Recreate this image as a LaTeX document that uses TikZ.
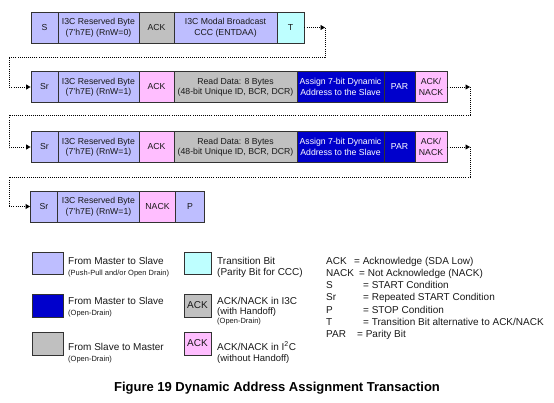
\documentclass[tikz,border=0pt]{standalone}
\usepackage{fontspec}
\setmainfont{Liberation Sans}
\usetikzlibrary{arrows.meta}
\definecolor{lav}{RGB}{190,190,255}
\definecolor{cyn}{RGB}{190,255,255}
\definecolor{pnk}{RGB}{255,190,255}
\definecolor{gry}{RGB}{192,192,192}
\definecolor{dbl}{RGB}{0,0,204}
\definecolor{edge}{RGB}{50,50,50}
\definecolor{ink}{RGB}{25,25,25}
\begin{document}
\begin{tikzpicture}[x=1pt,y=-1pt,
  cell/.style={draw=edge, line width=0.9pt, minimum height=31pt, inner sep=0pt, align=center,
    text=ink, font=\fontsize{8.7}{10.5}\selectfont},
  lgbox/.style={draw=edge, line width=0.9pt, inner sep=0pt, text=ink, font=\fontsize{10}{12}\selectfont},
  lav/.style={fill=lav}, cyn/.style={fill=cyn}, pnk/.style={fill=pnk}, gry/.style={fill=gry},
  dbl/.style={fill=dbl, text=white},
  txt/.style={anchor=base west, inner sep=0pt, text=ink, font=\fontsize{10}{12}\selectfont},
  small/.style={txt, font=\fontsize{7.5}{9}\selectfont},
  mid/.style={txt, font=\fontsize{9.5}{11}\selectfont},
  dotline/.style={draw=black, line width=0.9pt, dash pattern=on 1pt off 1.1pt},
  tip/.style={-{Triangle[length=4.5pt,width=5pt]}}
]
\useasboundingbox (0,0) rectangle (554,402);

% Row 1
\node[cell,lav,minimum width=27pt] (s1) at (44.5,27.5) {S};
\node[cell,lav,minimum width=81pt] (r1) at (98.5,27.5) {I3C Reserved Byte\\(7'h7E) (RnW=0)};
\node[cell,gry,minimum width=35pt] (a1) at (156.5,27.5) {ACK};
\node[cell,lav,minimum width=103pt] (m1) at (225.5,27.5) {I3C Modal Broadcast\\CCC (ENTDAA)};
\node[cell,cyn,minimum width=27pt] (t1) at (290.5,27.5) {T};

% Row 2
\node[cell,lav,minimum width=27pt] (s2) at (44.5,87) {Sr};
\node[cell,lav,minimum width=81pt] (r2) at (98.5,87) {I3C Reserved Byte\\(7'h7E) (RnW=1)};
\node[cell,pnk,minimum width=35pt] (a2) at (156.5,87) {ACK};
\node[cell,gry,minimum width=123pt] (d2) at (235.5,87) {Read Data: 8 Bytes\\(48-bit Unique ID, BCR, DCR)};
\node[cell,dbl,minimum width=87pt] (g2) at (340.5,87) {Assign 7-bit Dynamic\\Address to the Slave};
\node[cell,dbl,minimum width=31pt] (p2) at (399.5,87) {PAR};
\node[cell,pnk,minimum width=32pt] (n2) at (431,87) {ACK/\\NACK};

% Row 3
\node[cell,lav,minimum width=27pt] (s3) at (44.5,147) {Sr};
\node[cell,lav,minimum width=81pt] (r3) at (98.5,147) {I3C Reserved Byte\\(7'h7E) (RnW=1)};
\node[cell,pnk,minimum width=35pt] (a3) at (156.5,147) {ACK};
\node[cell,gry,minimum width=123pt] (d3) at (235.5,147) {Read Data: 8 Bytes\\(48-bit Unique ID, BCR, DCR)};
\node[cell,dbl,minimum width=87pt] (g3) at (340.5,147) {Assign 7-bit Dynamic\\Address to the Slave};
\node[cell,dbl,minimum width=31pt] (p3) at (399.5,147) {PAR};
\node[cell,pnk,minimum width=32pt] (n3) at (431,147) {ACK/\\NACK};

% Row 4
\node[cell,lav,minimum width=27pt] (s4) at (44,206.5) {Sr};
\node[cell,lav,minimum width=82pt] (r4) at (98.5,206.5) {I3C Reserved Byte\\(7'h7E) (RnW=1)};
\node[cell,pnk,minimum width=36pt] (k4) at (157.5,206.5) {NACK};
\node[cell,lav,minimum width=29pt] (p4) at (190,206.5) {P};

% Connectors
\coordinate (c1) at (325,27.5);
\coordinate (c1a) at (325,57);
\coordinate (c1b) at (9,57);
\draw[dotline,tip] (t1.east) -- (c1);
\draw[dotline,tip] (c1) -- (c1a) -- (c1b) |- (s2.west);

\coordinate (c2) at (470,87);
\coordinate (c2a) at (470,115);
\coordinate (c2b) at (9,115);
\draw[dotline,tip] (n2.east) -- (c2);
\draw[dotline,tip] (c2) -- (c2a) -- (c2b) |- (s3.west);

\coordinate (c3) at (470,147);
\coordinate (c3a) at (470,177);
\coordinate (c3b) at (9,177);
\draw[dotline,tip] (n3.east) -- (c3);
\draw[dotline,tip] (c3) -- (c3a) -- (c3b) |- (s4.west);

% Legend column 1
\node[lgbox,lav,minimum width=31pt,minimum height=22pt] (l1) at (47.5,263) {};
\node[lgbox,dbl,minimum width=31pt,minimum height=23pt] (l2) at (47.5,305.5) {};
\node[lgbox,gry,minimum width=31pt,minimum height=23pt] (l3) at (47.5,343.5) {};
\node[txt] (l1t) at (68,264.6) {From Master to Slave};
\node[small] (l1s) at (68,275.7) {(Push-Pull and/or Open Drain)};
\node[txt] (l2t) at (68,304.6) {From Master to Slave};
\node[small] (l2s) at (68,315.7) {(Open-Drain)};
\node[txt] (l3t) at (68,350.6) {From Slave to Master};
\node[small] (l3s) at (68,361.7) {(Open-Drain)};

% Legend column 2
\node[lgbox,cyn,minimum width=27pt,minimum height=22pt] (m1b) at (197.5,263) {};
\node[lgbox,gry,minimum width=27pt,minimum height=23pt] (m2b) at (197.5,305.5) {ACK};
\node[lgbox,pnk,minimum width=27pt,minimum height=23pt] (m3b) at (197.5,343.5) {ACK};
\node[txt] (m1t) at (217,264.6) {Transition Bit};
\node[txt] (m1s) at (217,275.6) {(Parity Bit for CCC)};
\node[txt] (m2t) at (217,304.6) {ACK/NACK in I3C};
\node[mid] (m2s) at (217,314.5) {(with Handoff)};
\node[small] (m2u) at (217,323.7) {(Open-Drain)};
\node[txt] (m3t) at (217,350.6) {ACK/NACK in I\textsuperscript{2}C};
\node[mid] (m3s) at (217,361.4) {(without Handoff)};

% Legend column 3
\node[txt] (k1) at (326,264.3) {ACK};   \node[txt] (k1e) at (354,264.3) {= Acknowledge (SDA Low)};
\node[txt] (k2) at (326,276.5) {NACK};  \node[txt] (k2e) at (359,276.5) {= Not Acknowledge (NACK)};
\node[txt] (k3) at (326,288.7) {S};     \node[txt] (k3e) at (363,288.7) {= START Condition};
\node[txt] (k4) at (326,300.9) {Sr};    \node[txt] (k4e) at (363,300.9) {= Repeated START Condition};
\node[txt] (k5) at (326,313.1) {P};     \node[txt] (k5e) at (363,313.1) {= STOP Condition};
\node[txt] (k6) at (326,325.3) {T};     \node[txt] (k6e) at (363,325.3) {= Transition Bit alternative to ACK/NACK};
\node[txt] (k7) at (326,337.5) {PAR};   \node[txt] (k7e) at (357,337.5) {= Parity Bit};

% Caption
\node[anchor=base, inner sep=0pt, font=\fontsize{13}{15}\bfseries\selectfont] (cap) at (277,391.7) {Figure 19 Dynamic Address Assignment Transaction};
\end{tikzpicture}
\end{document}
